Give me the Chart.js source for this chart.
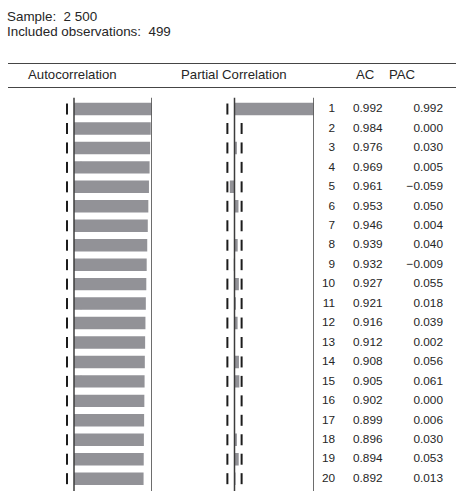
<!DOCTYPE html>
<html>
<head>
<meta charset="utf-8">
<script src="https://cdn.jsdelivr.net/npm/chart.js@4/dist/chart.umd.min.js"></script>
<style>
  html, body { margin: 0; padding: 0; background: #fff; }
  body {
    position: relative; width: 456px; height: 491px; overflow: hidden;
    font-family: "Liberation Sans", Arial, sans-serif; color: #262626;
  }
  .t { position: absolute; white-space: nowrap; line-height: 1; }
  .rule { position: absolute; left: 8px; right: 0; height: 0; border-top: 1.5px solid #454545; }
  canvas { position: absolute; }
  .num { font-size: 11.8px; }
</style>
</head>
<body>
<div class="t" style="left:7px; top:10px; font-size:13.4px;">Sample:&nbsp; 2 500</div>
<div class="t" style="left:7px; top:25px; font-size:13.4px;">Included observations:&nbsp; 499</div>

<div class="rule" style="top:63px;"></div>
<div class="t" style="left:28px; top:68px; font-size:13.2px;">Autocorrelation</div>
<div class="t" style="left:181px; top:68px; font-size:13.2px;">Partial Correlation</div>
<div class="t" style="left:356px; top:68px; font-size:13.2px;">AC</div>
<div class="t" style="left:389px; top:68px; font-size:13.2px;">PAC</div>
<div class="rule" style="top:87px;"></div>

<canvas id="acChart" width="156" height="410" style="left:-4px; top:90px;"></canvas>
<canvas id="pacChart" width="159" height="410" style="left:155px; top:90px;"></canvas>
<div id="rows"></div>

<script>
// Correlogram: lags, autocorrelations and partial autocorrelations
const lags = [1, 2, 3, 4, 5, 6, 7, 8, 9, 10, 11, 12, 13, 14, 15, 16, 17, 18, 19, 20];
const acValues = [0.992, 0.984, 0.976, 0.969, 0.961, 0.953, 0.946, 0.939, 0.932, 0.927,
                  0.921, 0.916, 0.912, 0.908, 0.905, 0.902, 0.899, 0.896, 0.894, 0.892];
const pacValues = [0.992, 0.000, 0.030, 0.005, -0.059, 0.050, 0.004, 0.040, -0.009, 0.055,
                   0.018, 0.039, 0.002, 0.056, 0.061, 0.000, 0.006, 0.030, 0.053, 0.013];
const observations = 499;
// approximate two-standard-error band
const band = 2 / Math.sqrt(observations);

const barColor = '#929297';
const lineColor = '#3c3c3c';

// dashed band marks per lag, zero line and right frame line
const framePlugin = {
  id: 'correlogramFrame',
  beforeDatasetsDraw(chart) {
    const { ctx, scales: { x, y } } = chart;
    ctx.save();
    ctx.strokeStyle = '#1c1c1c';
    ctx.lineWidth = 2;
    lags.forEach((lag, i) => {
      const yc = y.getPixelForValue(i);
      [-band, band].forEach(b => {
        const xp = x.getPixelForValue(b);
        ctx.beginPath();
        ctx.moveTo(xp, yc - 5.5);
        ctx.lineTo(xp, yc + 5.5);
        ctx.stroke();
      });
    });
    ctx.restore();
  },
  afterDatasetsDraw(chart) {
    const { ctx, chartArea, scales: { x } } = chart;
    ctx.save();
    ctx.strokeStyle = lineColor;
    ctx.lineWidth = 1.5;
    [0, 1].forEach(v => {
      const xp = x.getPixelForValue(v);
      ctx.beginPath();
      ctx.moveTo(xp, chartArea.top - 1.5);
      ctx.lineTo(xp, chart.height);
      ctx.stroke();
    });
    ctx.restore();
  }
};

function makePanel(id, values) {
  return new Chart(document.getElementById(id), {
    type: 'bar',
    data: {
      labels: lags,
      datasets: [{
        data: values,
        backgroundColor: barColor,
        borderWidth: 0,
        barPercentage: 0.64,
        categoryPercentage: 1
      }]
    },
    options: {
      indexAxis: 'y',
      responsive: false,
      animation: false,
      events: [],
      layout: { padding: { top: 9.3, bottom: 11.6, left: 0, right: 0 } },
      plugins: { legend: { display: false }, tooltip: { enabled: false } },
      scales: {
        x: { type: 'linear', min: -1, max: 1, display: false },
        y: { type: 'category', display: false }
      }
    },
    plugins: [framePlugin]
  });
}

const acChart = makePanel('acChart', acValues);
const pacChart = makePanel('pacChart', pacValues);

// numeric table, one line per lag, placed on the chart's row positions
const fmt = v => (v < 0 ? '\u2212' : '') + Math.abs(v).toFixed(3);
const rows = document.getElementById('rows');
const canvasTop = 90;
lags.forEach((lag, i) => {
  const yc = canvasTop + acChart.scales.y.getPixelForValue(i);
  const top = (yc - 5.8).toFixed(1) + 'px';
  const cells = [
    { text: String(lag), style: 'right:' + (456 - 335) + 'px;' },
    { text: fmt(acValues[i]), style: 'left:353px;' },
    { text: fmt(pacValues[i]), style: 'right:' + (456 - 443) + 'px;' }
  ];
  cells.forEach(c => {
    const d = document.createElement('div');
    d.className = 't num';
    d.setAttribute('style', c.style + 'top:' + top + ';');
    d.textContent = c.text;
    rows.appendChild(d);
  });
});
</script>
</body>
</html>
